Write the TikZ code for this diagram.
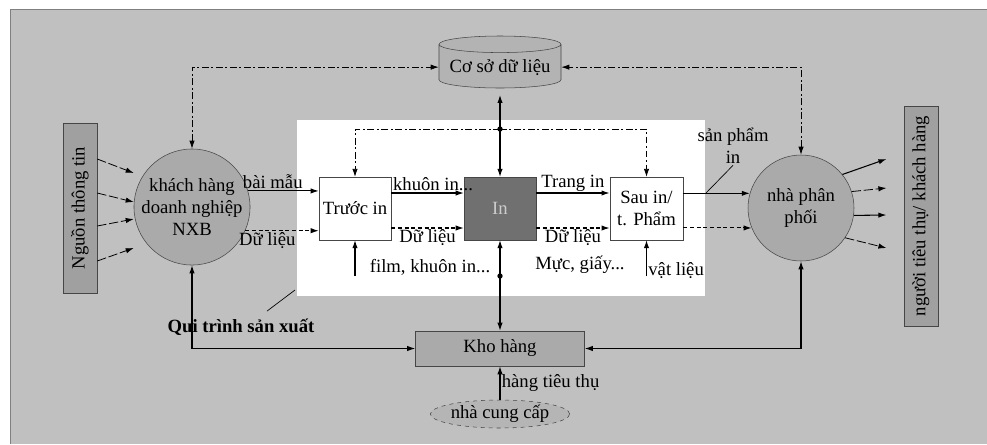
\documentclass[tikz,border=0pt]{standalone}
\usepackage{fontspec}
\setmainfont{Liberation Serif}
\usepackage{tikz}
\usetikzlibrary{arrows.meta, positioning, calc, shapes.geometric}
\definecolor{panelgray}{RGB}{192,192,192}
\definecolor{nodegray}{RGB}{170,170,170}
\definecolor{bargray}{RGB}{160,160,160}
\definecolor{darkbox}{RGB}{112,112,112}
\definecolor{linegray}{RGB}{70,70,70}

\tikzset{
  txt/.style={font=\fontsize{14}{16.5}\selectfont, inner sep=1pt},
  procbox/.style={txt, draw=linegray, fill=white, minimum width=54pt, minimum height=47pt, align=center},
  actor/.style={txt, circle, draw=linegray, fill=nodegray, minimum size=77pt, inner sep=0pt, align=center},
  sidebar/.style={txt, draw=linegray, fill=bargray, rotate=90, minimum height=25.5pt},
  flow/.style={->, line width=0.8pt},
  dataflow/.style={->, dash pattern=on 3pt off 2pt, line width=0.8pt},
  infoflow/.style={->, dash pattern=on 5pt off 2pt on 1.5pt off 2pt, line width=0.6pt},
  feed/.style={->, dash pattern=on 7pt off 2pt, line width=0.6pt},
}

\begin{document}
\begin{tikzpicture}[x=0.75pt, y=-0.75pt, >={Latex[length=6pt,width=4pt]}]
  \useasboundingbox (0,0) rectangle (987,444);
  % panel and production area
  \fill[panelgray] (10,9) rectangle (987,444);
  \draw[gray] (10,444) -- (10,9) -- (987,9);
  \fill[white] (297,120) rectangle (705,296);

  % nodes
  \node[sidebar, minimum width=127.5pt] (src) at (80,208) {Nguồn thông tin};
  \node[actor] (cust) at (192,207) {khách hàng\\doanh nghiệp\\NXB};
  \node[procbox] (pre) at (355,208.5) {Trước in};
  \node[procbox, fill=darkbox, text=black!20] (press) at (500,208.5) {In};
  \node[procbox, minimum width=55pt] (post) at (646.5,208.5) {Sau in/\\t. Phẩm};
  \node[actor, minimum size=79.5pt] (dist) at (801,208) {nhà phân\\phối};
  \node[sidebar, minimum width=165pt] (cons) at (921,216) {người tiêu thụ/ khách hàng};
  \node[txt, cylinder, shape border rotate=90, aspect=0.16, draw=linegray, fill=nodegray!60!panelgray,
        minimum width=91.5pt, minimum height=39pt, anchor=shape center] (db) at (500,62) {Cơ sở dữ liệu};
  \node[txt, draw=linegray, fill=nodegray, minimum width=126.75pt, minimum height=26.25pt] (store) at (500,348.5) {Kho hàng};
  \node[txt, ellipse, draw=linegray, dashed, fill=nodegray!50!panelgray, minimum width=99pt,
        minimum height=21pt, inner sep=0pt] (supp) at (500,414) {nhà cung cấp};

  % hubs and rows
  \coordinate (hubT) at (500,129);
  \coordinate (hubB) at (500,276);
  \coordinate (rowA) at (0,193);
  \coordinate (rowB) at (0,228);
  \coordinate (outend) at ([xshift=-13pt]cons.north);

  % information sources
  \foreach \ya/\yb in {159/173, 193/202, 226/219, 261/248}
    \draw[feed] (src.south |- 0,\ya) -- (cust.west |- 0,\yb);

  % production chain
  \draw[flow] (cust.16) -- (cust.16 -| pre.west) node[txt, above, pos=0.35] {bài mẫu};
  \draw[dataflow] (cust.-24) -- (cust.-24 -| pre.west) node[txt, below, pos=0.3] {Dữ liệu};
  \draw[flow] (pre.east |- rowA) -- (press.west |- rowA) node[txt, above right, pos=0] {khuôn in...};
  \draw[dataflow] (pre.east |- rowB) -- (press.west |- rowB) node[txt, below, midway] {Dữ liệu};
  \draw[flow] (press.east |- rowA) -- (post.west |- rowA) node[txt, above, midway] {Trang in};
  \draw[dataflow] (press.east |- rowB) -- (post.west |- rowB) node[txt, below, midway] {Dữ liệu};
  \draw[flow] (post.east |- dist.164) -- (dist.164);
  \draw[dataflow] (post.east |- dist.202) -- (dist.202);
  \node[txt, align=center] (prodlbl) at (733,146) {sản phẩm\\in};
  \coordinate (prodtip) at (706,193);
  \draw[line width=0.5pt] (prodtip) -- (prodlbl.south);

  % database
  \draw[infoflow, <->] (cust.north) |- (db.west);
  \draw[infoflow, <->] (dist.north) |- (db.east);
  \draw[flow, <->, shorten <=5pt] (db.south) -- (press.north);
  \draw[infoflow] (hubT) -| (pre.north);
  \draw[infoflow] (hubT) -| (post.north);
  \fill (hubT) circle (2pt);

  % materials
  \draw[flow] (hubB) -- (press.south);
  \draw[flow] (hubB) -- (store.north);
  \fill (hubB) circle (2pt);
  \draw[flow] (pre.south |- hubB) -- (pre.south);
  \node[txt] (filmlbl) at (430,267) {film, khuôn in...};
  \node[txt] (inklbl) at (580,265) {Mực, giấy...};
  \draw[flow] (post.south |- hubB) -- (post.south) node[txt, right, pos=0.15] {vật liệu};

  % warehouse
  \draw[flow, <->] (cust.south) |- (store.west);
  \draw[flow, <->] (dist.south) |- (store.east);
  \draw[flow] (supp.north) -- (store.south) node[txt, right, midway] {hàng tiêu thụ};
  \node[txt, font=\fontsize{14}{16.5}\selectfont\bfseries] (proclbl) at (241,327) {Qui trình sản xuất};
  \coordinate (prodarea) at (295,290);
  \draw[line width=0.5pt] (proclbl.north) ++(26,-6) -- (prodarea);

  % consumers
  \foreach \a/\ye/\s in {39/159/flow, 18/188/feed, -8/215/flow, -34/248/feed}
    \draw[\s] (dist.\a) -- (outend |- 0,\ye);
\end{tikzpicture}
\end{document}
